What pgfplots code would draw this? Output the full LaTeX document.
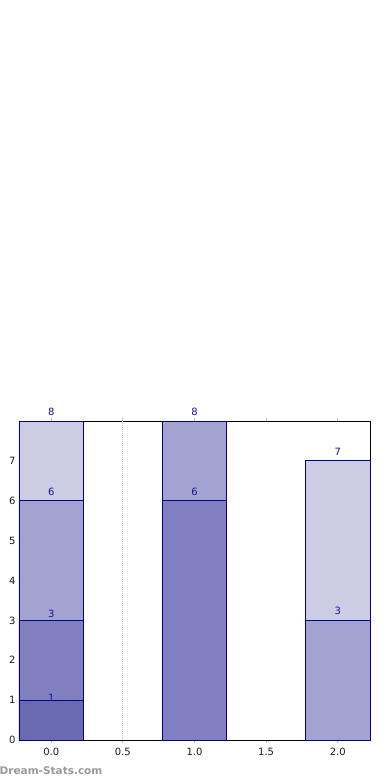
\documentclass[border=0pt]{standalone}
\usepackage{fontspec}
\setmainfont{DejaVu Sans}
\usepackage{pgfplots}
\usepackage{pgfplotstable}
\pgfplotsset{compat=1.18}
\definecolor{c1}{RGB}{204,204,229}
\definecolor{c2}{RGB}{163,163,209}
\definecolor{c3}{RGB}{128,128,192}
\definecolor{c4}{RGB}{106,106,176}
\definecolor{edge}{RGB}{0,0,128}
\definecolor{lab}{RGB}{20,20,150}
\pgfplotstableread{
x y dy
0 8 5.3
2 7 4.6
}\layerA
\pgfplotstableread{
x y dy
0 6 5.0
1 8 5.3
2 3 5.3
}\layerB
\pgfplotstableread{
x y dy
0 3 2.6
1 6 5.0
}\layerC
\pgfplotstableread{
x y dy
0 1 -2.0
}\layerD
\pgfplotsset{seg/.style={draw=edge, line width=0.8pt, bar shift=0pt,
  nodes near coords,
  visualization depends on={\thisrow{dy}\as\dy},
  nodes near coords style={font=\fontsize{10}{12}\selectfont, text=lab, anchor=south, inner sep=0pt, yshift=\dy pt}}}
\begin{document}
\begin{tikzpicture}
\useasboundingbox (0,0) rectangle (390pt,780pt);
\begin{axis}[
  at={(19pt,40pt)}, anchor=south west,
  scale only axis, width=351pt, height=319pt,
  xmin=-0.225, xmax=2.225, ymin=0, ymax=8,
  xtick={0,0.5,1,1.5,2}, ytick={0,1,...,7},
  /pgf/number format/assume math mode=true,
  tick label style={font=\fontsize{10}{12}\selectfont, text=black!90},
  xticklabel style={yshift=-1.2pt, /pgf/number format/fixed, /pgf/number format/fixed zerofill, /pgf/number format/precision=1},
  tick align=inside, major tick length=3.5pt,
  tick style={gray!55, line width=1pt},
  axis line style={black, line width=0.9pt},
  ybar, bar width=0.45,
  clip=false,
]
\addplot[sharp plot, draw=gray!45, dash pattern=on 1pt off 1pt, line width=0.8pt, forget plot] coordinates {(0.5,0) (0.5,8)};
\addplot[seg, fill=c1] table[x=x,y=y] {\layerA};
\addplot[seg, fill=c2] table[x=x,y=y] {\layerB};
\addplot[seg, fill=c3] table[x=x,y=y] {\layerC};
\addplot[seg, fill=c4] table[x=x,y=y] {\layerD};
\end{axis}
\node[anchor=west, inner sep=0pt, text=black!40, font=\fontsize{10.5}{12}\bfseries\selectfont] at (-0.5pt,9.5pt) {Dream-Stats.com};
\end{tikzpicture}
\end{document}
